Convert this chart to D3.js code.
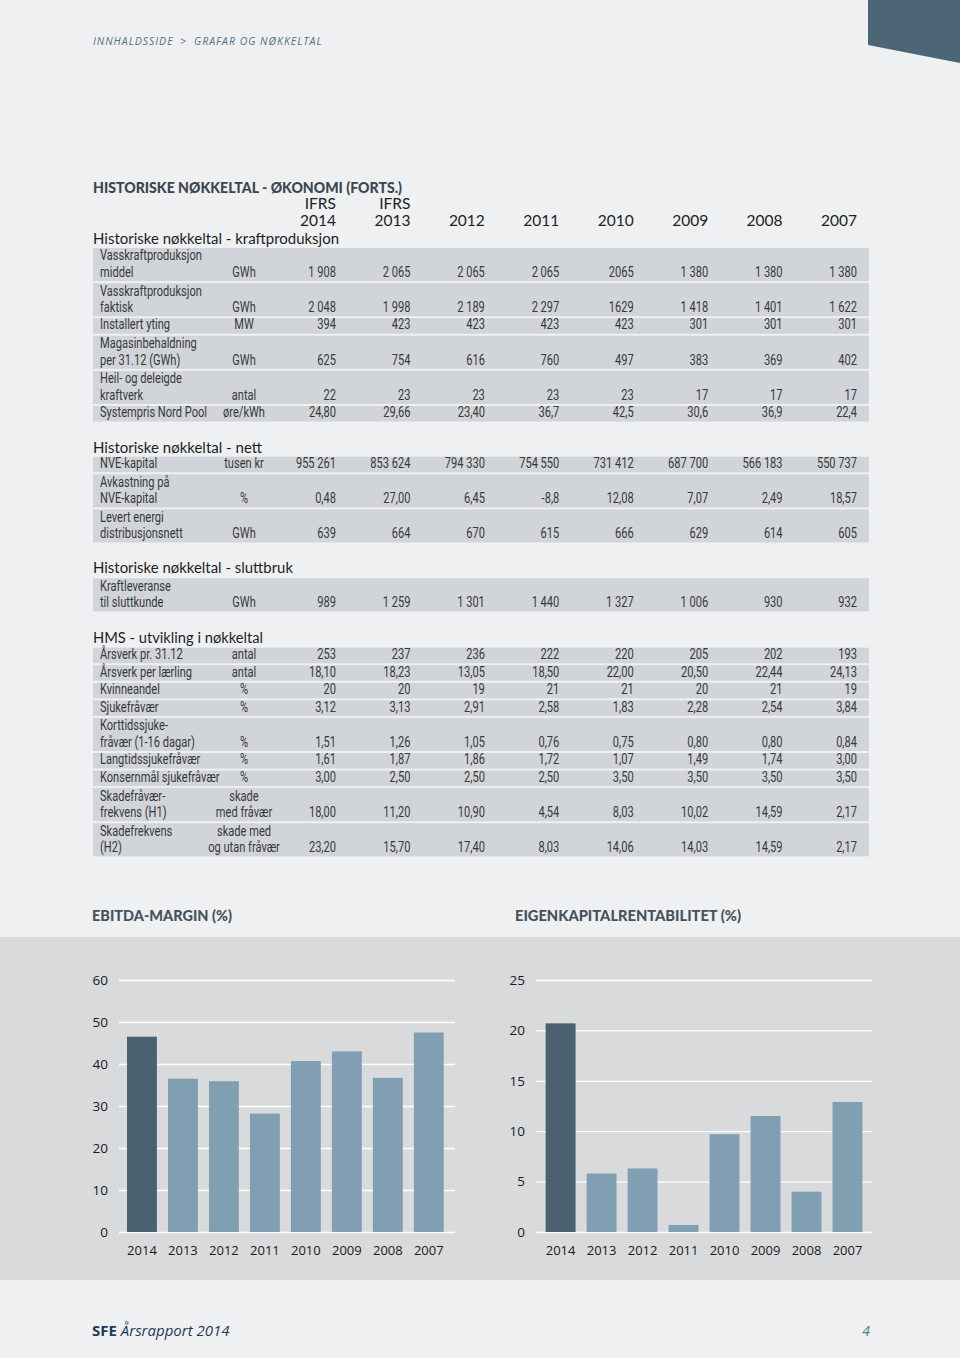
<!DOCTYPE html>
<html><head><meta charset="utf-8">
<script src="https://cdn.jsdelivr.net/npm/d3@7"></script>
<style>
html,body{margin:0;padding:0;background:#eef0f2;}
svg{display:block;}
</style></head>
<body>
<script>
// ---------- DATA ----------
const years = ["2014","2013","2012","2011","2010","2009","2008","2007"];
const headerTags = ["IFRS","IFRS","","","","","",""];

const kraftLabels = [["Vasskraftproduksjon","middel"],["Vasskraftproduksjon","faktisk"],["Installert yting"],["Magasinbehaldning","per 31.12 (GWh)"],["Heil- og deleigde","kraftverk"],["Systempris Nord Pool"]];
const kraftUnits = [["GWh"],["GWh"],["MW"],["GWh"],["antal"],["øre/kWh"]];
const kraftValues = [
  ["1 908","2 065","2 065","2 065","2065","1 380","1 380","1 380"],
  ["2 048","1 998","2 189","2 297","1629","1 418","1 401","1 622"],
  ["394","423","423","423","423","301","301","301"],
  ["625","754","616","760","497","383","369","402"],
  ["22","23","23","23","23","17","17","17"],
  ["24,80","29,66","23,40","36,7","42,5","30,6","36,9","22,4"]
];

const nettLabels = [["NVE-kapital"],["Avkastning på","NVE-kapital"],["Levert energi","distribusjonsnett"]];
const nettUnits = [["tusen kr"],["%"],["GWh"]];
const nettValues = [
  ["955 261","853 624","794 330","754 550","731 412","687 700","566 183","550 737"],
  ["0,48","27,00","6,45","-8,8","12,08","7,07","2,49","18,57"],
  ["639","664","670","615","666","629","614","605"]
];

const sluttLabels = [["Kraftleveranse","til sluttkunde"]];
const sluttUnits = [["GWh"]];
const sluttValues = [["989","1 259","1 301","1 440","1 327","1 006","930","932"]];

const hmsLabels = [["Årsverk pr. 31.12"],["Årsverk per lærling"],["Kvinneandel"],["Sjukefråvær"],["Korttidssjuke-","fråvær (1-16 dagar)"],["Langtidssjukefråvær"],["Konsernmål sjukefråvær"],["Skadefråvær-","frekvens (H1)"],["Skadefrekvens","(H2)"]];
const hmsUnits = [["antal"],["antal"],["%"],["%"],["%"],["%"],["%"],["skade","med fråvær"],["skade med","og utan fråvær"]];
const hmsValues = [
  ["253","237","236","222","220","205","202","193"],
  ["18,10","18,23","13,05","18,50","22,00","20,50","22,44","24,13"],
  ["20","20","19","21","21","20","21","19"],
  ["3,12","3,13","2,91","2,58","1,83","2,28","2,54","3,84"],
  ["1,51","1,26","1,05","0,76","0,75","0,80","0,80","0,84"],
  ["1,61","1,87","1,86","1,72","1,07","1,49","1,74","3,00"],
  ["3,00","2,50","2,50","2,50","3,50","3,50","3,50","3,50"],
  ["18,00","11,20","10,90","4,54","8,03","10,02","14,59","2,17"],
  ["23,20","15,70","17,40","8,03","14,06","14,03","14,59","2,17"]
];

const ebitdaValues = [46.5, 36.5, 35.9, 28.2, 40.7, 43.0, 36.7, 47.5];
const ekValues = [20.7, 5.8, 6.3, 0.7, 9.7, 11.5, 4.0, 12.9];
const ebitdaTicks = [0,10,20,30,40,50,60];
const ekTicks = [0,5,10,15,20,25];

// ---------- STYLE ----------
const BG = "#eef0f2", BAND = "#d1d5d9", PANEL = "#d9dadc";
const DARK = "#4b6170", LIGHT = "#819fb2";
const CELL_FONT = "Roboto,'Liberation Sans',sans-serif";
const CELL_SIZE = "14px";
const HEAD_FONT = "Lato,'Open Sans',sans-serif";

const svg = d3.select("body").append("svg").attr("width",960).attr("height",1358);
svg.append("rect").attr("width",960).attr("height",1358).attr("fill",BG);

function fit(sel, w){
  const cur = sel.node().getComputedTextLength();
  if (Math.abs(cur - w) > 1) sel.attr("textLength", w).attr("lengthAdjust","spacingAndGlyphs");
  return sel;
}
// condensed look: calibrate a horizontal scale so that a known label matches its width in the reference
const probe = svg.append("text").style("font-family",CELL_FONT).style("font-size",CELL_SIZE).text("Vasskraftproduksjon");
const SQUEEZE = 102 / probe.node().getComputedTextLength();
probe.remove();

function cell(g, x, y, anchor, t){
  return g.append("g").attr("transform",`translate(${x},${y}) scale(${SQUEEZE},1)`)
    .append("text").attr("text-anchor",anchor)
    .style("font-family",CELL_FONT).style("font-size",CELL_SIZE)
    .attr("fill","#383838").text(t);
}

// top-right corner shape
svg.append("path").attr("d","M868,0 L960,0 L960,63 L868,45 Z").attr("fill","#4c6577");

// breadcrumb
const bc = svg.append("text").attr("x",93).attr("y",44.5)
  .style("font-family","'Open Sans',sans-serif").style("font-style","italic")
  .style("font-size","10.5px").style("letter-spacing","1px").attr("fill","#56707f");
bc.append("tspan").text("INNHALDSSIDE");
bc.append("tspan").attr("x",180).text(">");
bc.append("tspan").attr("x",194).text("GRAFAR OG NØKKELTAL");

// ---------- TABLE ----------
const xCol = d3.scalePoint().domain(years).range([336, 857]);
const LINE = 17.55, GAP = 2, X0 = 93, X1 = 869, LABEL_X = 100, UNIT_X = 244;

fit(svg.append("text").attr("x",93).attr("y",193.3)
  .style("font-family",HEAD_FONT).style("font-weight","900").style("font-size","14.5px")
  .attr("fill","#3b4650").text("HISTORISKE NØKKELTAL - ØKONOMI (FORTS.)"), 309);

svg.append("g").selectAll("text").data(years).join("text")
  .attr("x", d => xCol(d)).attr("y",226).attr("text-anchor","end")
  .style("font-family",HEAD_FONT).style("font-size","15.5px").attr("fill","#222").text(d => d);
svg.append("g").selectAll("text").data(headerTags.map((t,i)=>({t,y:years[i]}))).join("text")
  .attr("x", d => xCol(d.y)).attr("y",209).attr("text-anchor","end")
  .style("font-family",HEAD_FONT).style("font-size","15.5px").attr("fill","#222").text(d => d.t);

function section(title, titleW, headY, top, labels, units, values){
  fit(svg.append("text").attr("x",93).attr("y",headY)
    .style("font-family",HEAD_FONT).style("font-size","15.5px").attr("fill","#1e1e1e").text(title), titleW);
  let y = top;
  const g = svg.append("g");
  labels.forEach((lab, i) => {
    const u = units[i];
    const n = Math.max(lab.length, u.length);
    const h = n*LINE - GAP;
    g.append("rect").attr("x",X0).attr("y",y).attr("width",X1-X0).attr("height",h).attr("fill",BAND);
    const base = y + h - 4.3;
    const lineY = (k, cnt) => base - (cnt-1-k)*16.4;
    lab.forEach((t,k) => cell(g, LABEL_X, lineY(k,lab.length), "start", t));
    u.forEach((t,k) => cell(g, UNIT_X, lineY(k,u.length), "middle", t));
    values[i].forEach((v,j) => cell(g, xCol(years[j]), base, "end", v));
    y += n*LINE;
  });
}

section("Historiske nøkkeltal - kraftproduksjon", 246, 244, 248, kraftLabels, kraftUnits, kraftValues);
section("Historiske nøkkeltal - nett", 169, 452.5, 456.7, nettLabels, nettUnits, nettValues);
section("Historiske nøkkeltal - sluttbruk", 200, 573, 578.3, sluttLabels, sluttUnits, sluttValues);
section("HMS - utvikling i nøkkeltal", 170, 643, 647.7, hmsLabels, hmsUnits, hmsValues);

// ---------- CHARTS ----------
svg.append("rect").attr("x",0).attr("y",937).attr("width",960).attr("height",343).attr("fill",PANEL);

function chart(title, titleW, titleX, gridX0, gridX1, bandX0, bandX1, values, ticks, maxV){
  fit(svg.append("text").attr("x",titleX).attr("y",920.5)
    .style("font-family",HEAD_FONT).style("font-weight","900").style("font-size","15px")
    .attr("fill","#46525c").text(title), titleW);
  const y = d3.scaleLinear().domain([0,maxV]).range([1232,980]);
  const x = d3.scaleBand().domain(years).range([bandX0,bandX1]).paddingInner(0.27).paddingOuter(0.15);
  const ax = svg.append("g").attr("transform",`translate(${gridX0},0)`)
    .call(d3.axisLeft(y).tickValues(ticks).tickSize(-(gridX1-gridX0)).tickPadding(11).tickFormat(d3.format("d")));
  ax.select(".domain").remove();
  ax.selectAll("line").attr("stroke","#ffffff").attr("stroke-width",1.3);
  ax.selectAll("text").style("font-family","'Open Sans',sans-serif").style("font-size","13.5px").attr("fill","#1a1a1a");
  svg.append("g").selectAll("rect").data(values.map((v,i)=>({v,yr:years[i],i}))).join("rect")
    .attr("x", d => x(d.yr)).attr("width", x.bandwidth())
    .attr("y", d => y(d.v)).attr("height", d => y(0)-y(d.v))
    .attr("fill", d => d.i===0 ? DARK : LIGHT);
  const bx = svg.append("g").attr("transform","translate(0,1232)")
    .call(d3.axisBottom(x).tickSize(0).tickPadding(14));
  bx.select(".domain").remove();
  bx.selectAll("text").style("font-family","'Open Sans',sans-serif").style("font-size","13px").attr("fill","#1a1a1a");
}

chart("EBITDA-MARGIN (%)", 140, 92, 119, 455, 120.85, 449.9, ebitdaValues, ebitdaTicks, 60);
chart("EIGENKAPITALRENTABILITET (%)", 226, 515, 536, 872, 539.5, 868.6, ekValues, ekTicks, 25);

// ---------- FOOTER ----------
const ft = svg.append("text").attr("x",92).attr("y",1336)
  .style("font-family","'Open Sans',sans-serif").style("font-size","15px").attr("fill","#1d3b57");
ft.append("tspan").style("font-weight","bold").text("SFE ");
ft.append("tspan").style("font-style","italic").text("Årsrapport 2014");
svg.append("text").attr("x",866).attr("y",1336).attr("text-anchor","middle")
  .style("font-family","'Open Sans',sans-serif").style("font-style","italic").style("font-size","14px")
  .attr("fill","#4f7d8c").text("4");
</script>
</body></html>
